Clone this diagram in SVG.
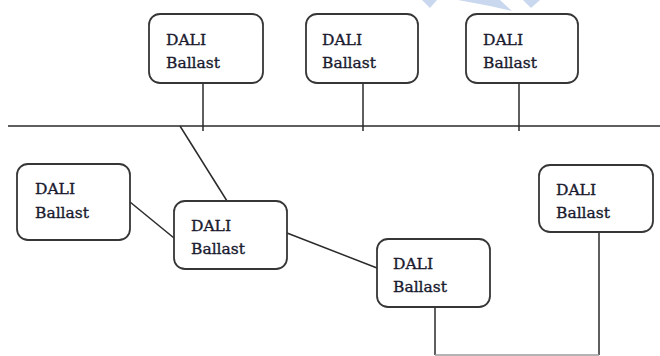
<svg xmlns="http://www.w3.org/2000/svg" width="660" height="356" viewBox="0 0 660 356">
<style>
.box{fill:#fff;stroke:#363636;stroke-width:1.8}
.t{font-family:"DejaVu Serif","Liberation Serif",serif;font-size:15.5px;fill:#1a1a2e;stroke:#1a1a2e;stroke-width:0.35}
.c{stroke:#2a2a2a;stroke-width:1.5;fill:none}
.wm{fill:#c9d8ee}
</style>
<rect width="660" height="356" fill="#fff"/>
<g id="watermark">
<polygon class="wm" points="422,0 437,0 430,8"/>
<polygon class="wm" points="458,0 500,0 512,11 490,6"/>
<polygon class="wm" points="523,0 540,0 531,8"/>
</g>
<g id="connectors">
<line class="c" x1="8" y1="126" x2="660" y2="126"/>
<line class="c" x1="203" y1="83" x2="203" y2="131"/>
<line class="c" x1="363" y1="83" x2="363" y2="131"/>
<line class="c" x1="519" y1="83" x2="519" y2="131"/>
<line class="c" x1="180" y1="126" x2="227" y2="201"/>
<line class="c" x1="130" y1="202" x2="174" y2="238"/>
<line class="c" x1="287" y1="233" x2="377" y2="268"/>
<line class="c" x1="435" y1="307" x2="435" y2="355"/>
<line class="c" x1="599" y1="232" x2="599" y2="355"/>
<line x1="435" y1="355" x2="599" y2="355" stroke="#9a9a9a" stroke-width="1.5"/>
</g>
<g id="n1"><rect class="box" x="149" y="14" width="114" height="69" rx="11"/><text class="t" x="166" y="45">DALI</text><text class="t" x="166" y="67.5">Ballast</text></g>
<g id="n2"><rect class="box" x="306" y="14" width="112" height="69" rx="11"/><text class="t" x="322" y="45">DALI</text><text class="t" x="322" y="67.5">Ballast</text></g>
<g id="n3"><rect class="box" x="466" y="14" width="112" height="69" rx="11"/><text class="t" x="483" y="45">DALI</text><text class="t" x="483" y="67.5">Ballast</text></g>
<g id="n4"><rect class="box" x="17" y="164" width="113" height="76" rx="11"/><text class="t" x="35" y="194">DALI</text><text class="t" x="35" y="217.5">Ballast</text></g>
<g id="n5"><rect class="box" x="174" y="201" width="113" height="68" rx="11"/><text class="t" x="191" y="231">DALI</text><text class="t" x="191" y="254">Ballast</text></g>
<g id="n6"><rect class="box" x="377" y="239" width="113" height="68" rx="11"/><text class="t" x="393" y="269">DALI</text><text class="t" x="393" y="292">Ballast</text></g>
<g id="n7"><rect class="box" x="539" y="165" width="114" height="67" rx="11"/><text class="t" x="556" y="195">DALI</text><text class="t" x="556" y="218">Ballast</text></g>
</svg>
